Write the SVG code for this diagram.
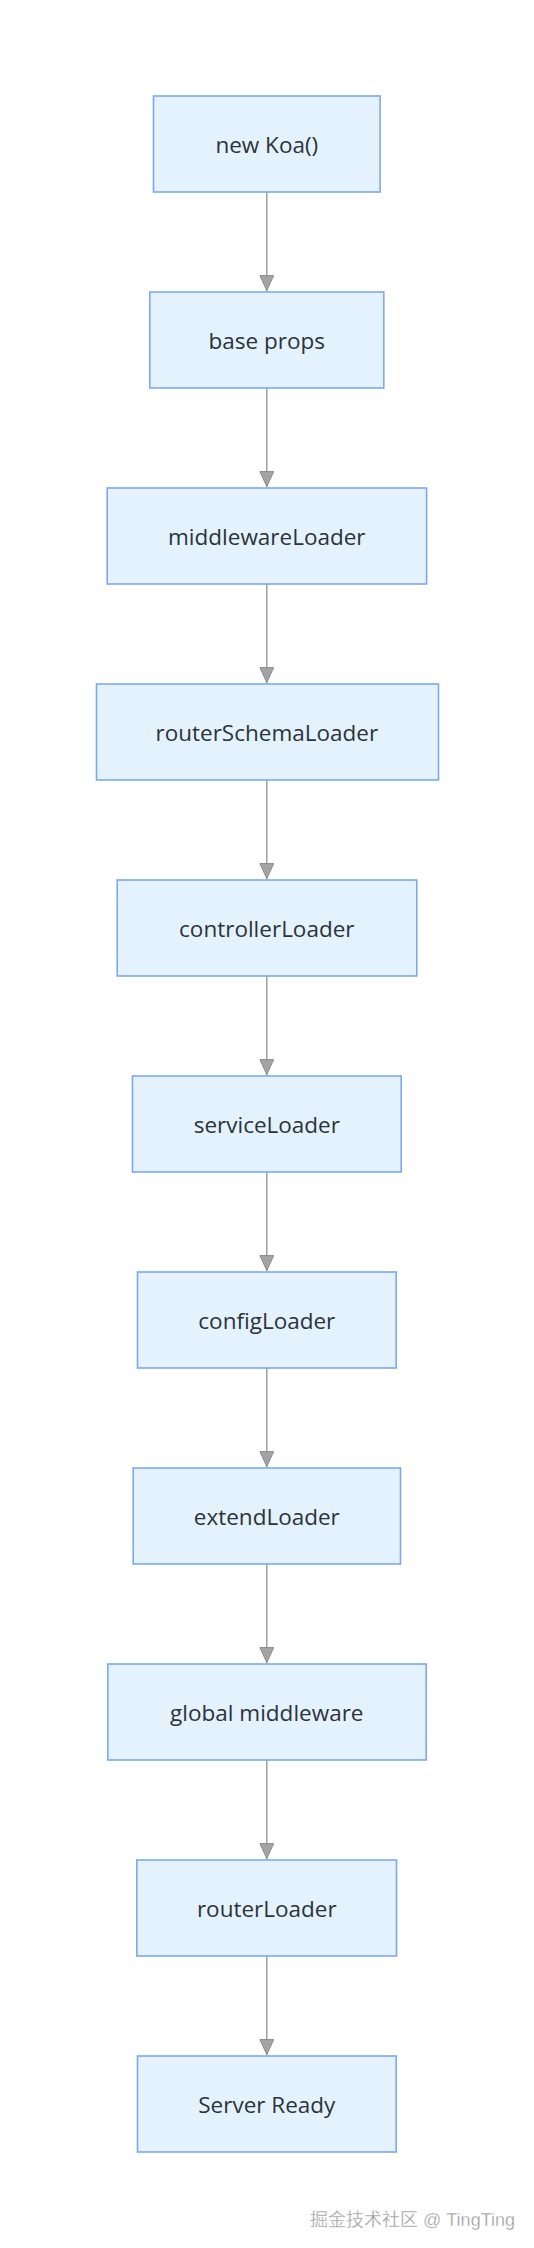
<svg xmlns="http://www.w3.org/2000/svg" width="534" height="2248" viewBox="0 0 534 2248">
<style>
.node rect{fill:#e3f2fd;stroke:#7ea9ec;stroke-width:1.6}
.node text{font-family:"Open Sans","Liberation Sans",sans-serif;font-size:22.5px;fill:#2c333a;text-anchor:middle;dominant-baseline:central}
.edge{stroke:#999;stroke-width:1.4;fill:none}
.wm{font-family:"Liberation Sans","Noto Sans CJK SC",sans-serif;font-size:18px;fill:#9a9a9a;stroke:#ffffff;stroke-width:0.3;text-anchor:end}
</style>
<defs>
<marker id="arr" markerWidth="16" markerHeight="15" refX="16" refY="7.5" orient="auto" markerUnits="userSpaceOnUse" viewBox="0 0 16 15">
<path d="M0.6,0.6 L15.6,7.5 L0.6,14.4 Z" fill="#a3a3a3" stroke="#8c8c8c" stroke-width="1"/>
</marker>
</defs>
<rect width="534" height="2248" fill="#ffffff"/>
<g id="connectors">
<line class="edge" x1="266.8" y1="192" x2="266.8" y2="291" marker-end="url(#arr)"/>
<line class="edge" x1="266.8" y1="388" x2="266.8" y2="487" marker-end="url(#arr)"/>
<line class="edge" x1="266.8" y1="584" x2="266.8" y2="683" marker-end="url(#arr)"/>
<line class="edge" x1="266.8" y1="780" x2="266.8" y2="879" marker-end="url(#arr)"/>
<line class="edge" x1="266.8" y1="976" x2="266.8" y2="1075" marker-end="url(#arr)"/>
<line class="edge" x1="266.8" y1="1172" x2="266.8" y2="1271" marker-end="url(#arr)"/>
<line class="edge" x1="266.8" y1="1368" x2="266.8" y2="1467" marker-end="url(#arr)"/>
<line class="edge" x1="266.8" y1="1564" x2="266.8" y2="1663" marker-end="url(#arr)"/>
<line class="edge" x1="266.8" y1="1760" x2="266.8" y2="1859" marker-end="url(#arr)"/>
<line class="edge" x1="266.8" y1="1956" x2="266.8" y2="2055" marker-end="url(#arr)"/>
</g>
<g id="n1" class="node"><rect x="153.5" y="96" width="226.6" height="96"/><text x="266.8" y="144">new Koa()</text></g>
<g id="n2" class="node"><rect x="149.8" y="292" width="234" height="96"/><text x="266.8" y="340">base props</text></g>
<g id="n3" class="node"><rect x="107.2" y="488" width="319.4" height="96"/><text x="266.8" y="536">middlewareLoader</text></g>
<g id="n4" class="node"><rect x="96.5" y="684" width="342" height="96"/><text x="266.8" y="732">routerSchemaLoader</text></g>
<g id="n5" class="node"><rect x="117.2" y="880" width="299.6" height="96"/><text x="266.8" y="928">controllerLoader</text></g>
<g id="n6" class="node"><rect x="132.5" y="1076" width="268.7" height="96"/><text x="266.8" y="1124">serviceLoader</text></g>
<g id="n7" class="node"><rect x="137.5" y="1272" width="258.7" height="96"/><text x="266.8" y="1320">configLoader</text></g>
<g id="n8" class="node"><rect x="133.2" y="1468" width="267.3" height="96"/><text x="266.8" y="1516">extendLoader</text></g>
<g id="n9" class="node"><rect x="107.8" y="1664" width="318.4" height="96"/><text x="266.8" y="1712">global middleware</text></g>
<g id="n10" class="node"><rect x="136.8" y="1860" width="259.7" height="96"/><text x="266.8" y="1908">routerLoader</text></g>
<g id="n11" class="node"><rect x="137.5" y="2056" width="258.7" height="96"/><text x="266.8" y="2104">Server Ready</text></g>
<text class="wm" x="515" y="2226">掘金技术社区 @ TingTing</text>
</svg>
